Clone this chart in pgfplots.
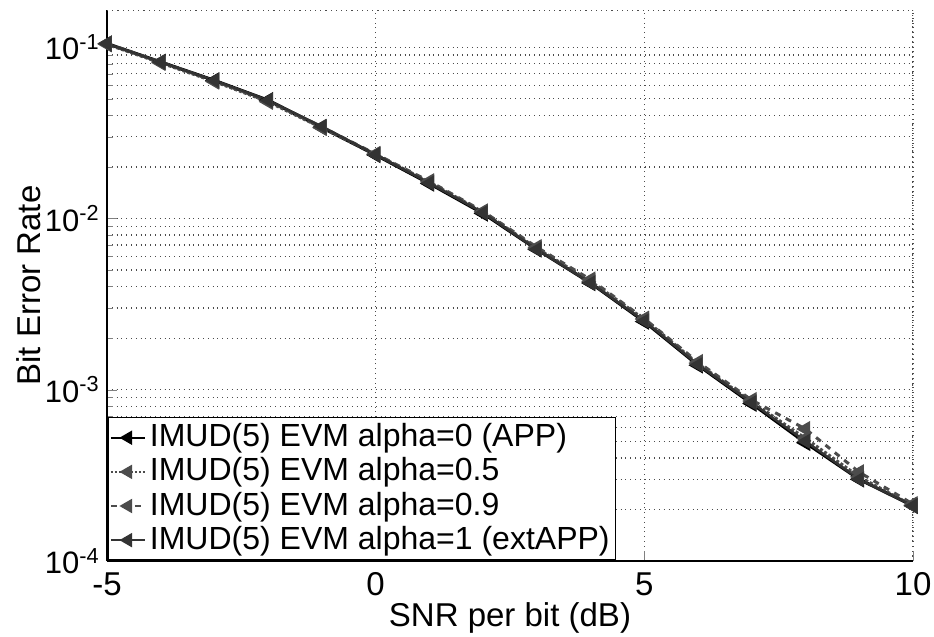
\documentclass[border=0pt]{standalone}
\usepackage{pgfplots}
\pgfplotsset{compat=1.18}
\usepackage{fontspec}
\setmainfont{Liberation Sans}
\begin{document}
\fontsize{16.5}{19.5}\selectfont
\begin{tikzpicture}
\begin{axis}[
  scale only axis,
  width=403pt, height=275.5pt,
  ymode=log,
  xmin=-5, xmax=10,
  ymin=1e-4, ymax=0.165,
  axis x line*=bottom, axis y line*=left,
  axis line style={line width=1pt, -},
  xtick={-5,0,5,10},
  xticklabels={-5,0,5,10},
  ytick={1e-4,1e-3,1e-2,1e-1},
  yticklabels={10\textsuperscript{-4},10\textsuperscript{-3},10\textsuperscript{-2},10\textsuperscript{-1}},
  yticklabel style={xshift=2pt, font=\fontsize{15.5}{18}\selectfont},
  tick align=inside,
  major tick length=5pt, minor tick length=3pt,
  grid=both,
  major grid style={dotted, black!70, line width=0.6pt},
  minor grid style={dotted, black!70, line width=0.6pt},
  xlabel={SNR per bit (dB)},
  ylabel={Bit Error Rate},
  xlabel style={yshift=8pt},
  ylabel style={yshift=-9pt},
  legend cell align=left,
  legend style={draw=black, line width=0.8pt, inner sep=1pt, row sep=-1pt,
    font=\fontsize{16}{19.5}\selectfont, at={(0,0)}, anchor=south west},
  legend image post style={line width=1pt},
]
\addplot[black, solid, line width=1.6pt, mark=triangle*, mark size=3.2pt, mark options={rotate=90, solid}] coordinates {
(-5,0.105) (-4,0.082) (-3,0.064) (-2,0.049) (-1,0.034) (0,0.0235) (1,0.016) (2,0.0107) (3,0.0066) (4,0.0042) (5,0.0025) (6,0.00139) (7,0.00083) (8,0.00049) (9,0.00030) (10,0.00021)};
\addlegendentry{IMUD(5) EVM alpha=0 (APP)}
\addplot[black!70, densely dotted, line width=1.5pt, mark=triangle*, mark size=3.2pt, mark options={rotate=90, solid}] coordinates {
(-5,0.104) (-4,0.081) (-3,0.063) (-2,0.048) (-1,0.0338) (0,0.0237) (1,0.0163) (2,0.0109) (3,0.0067) (4,0.0043) (5,0.00258) (6,0.00142) (7,0.00085) (8,0.00052) (9,0.00031) (10,0.00021)};
\addlegendentry{IMUD(5) EVM alpha=0.5}
\addplot[black!70, dashed, line width=1.5pt, mark=triangle*, mark size=3.2pt, mark options={rotate=90, solid}] coordinates {
(-5,0.105) (-4,0.082) (-3,0.0635) (-2,0.0485) (-1,0.0342) (0,0.0238) (1,0.0165) (2,0.011) (3,0.0068) (4,0.0044) (5,0.0026) (6,0.00145) (7,0.00087) (8,0.00059) (9,0.00033) (10,0.000215)};
\addlegendentry{IMUD(5) EVM alpha=0.9}
\addplot[black!80, solid, line width=1.2pt, mark=triangle*, mark size=3.2pt, mark options={rotate=90, solid}] coordinates {
(-5,0.105) (-4,0.082) (-3,0.064) (-2,0.049) (-1,0.0345) (0,0.0236) (1,0.0161) (2,0.0108) (3,0.0066) (4,0.0042) (5,0.00252) (6,0.0014) (7,0.00084) (8,0.0005) (9,0.0003) (10,0.00021)};
\addlegendentry{IMUD(5) EVM alpha=1 (extAPP)}
\draw[dotted, black!70, line width=0.6pt] (rel axis cs:0,1) -- (rel axis cs:1,1) -- (rel axis cs:1,0);
\end{axis}
\pgfresetboundingbox
\path ([xshift=-53.5pt,yshift=-37.5pt]current axis.south west) rectangle ([xshift=10.5pt,yshift=5pt]current axis.north east);
\end{tikzpicture}
\end{document}
